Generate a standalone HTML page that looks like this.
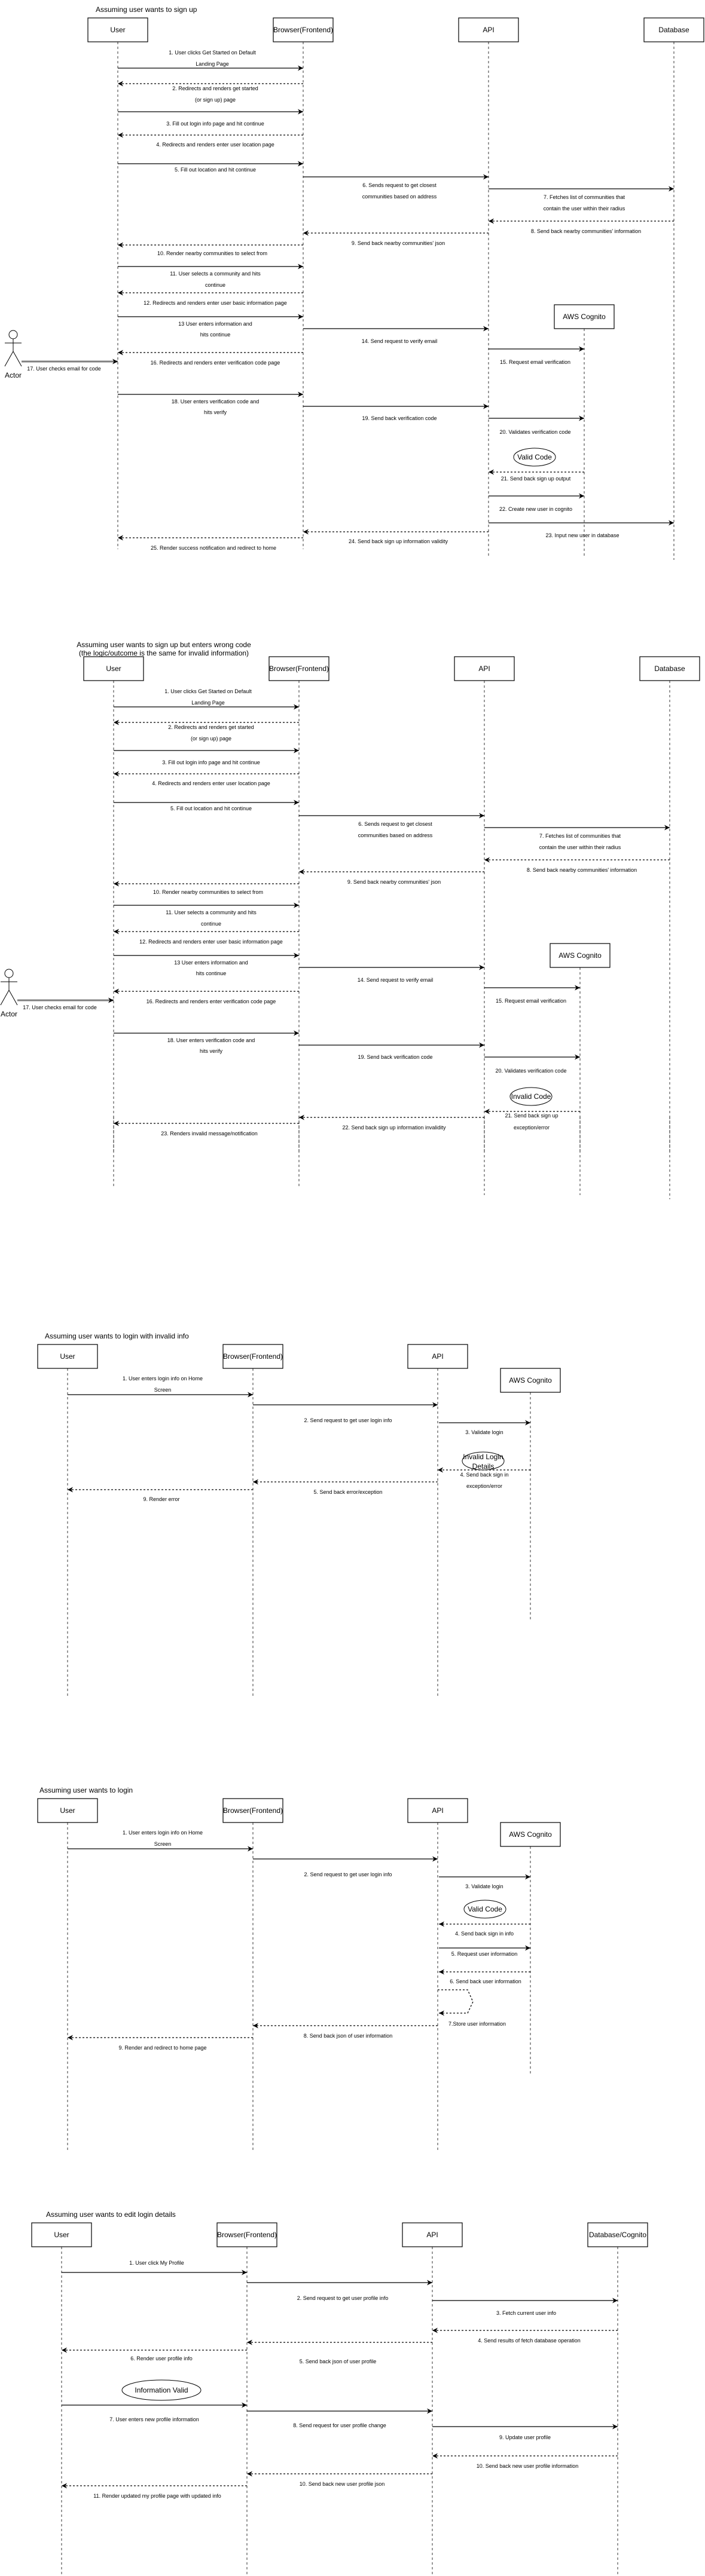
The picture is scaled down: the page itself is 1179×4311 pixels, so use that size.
<!DOCTYPE html>
<html><head><meta charset="utf-8"><style>
html,body{margin:0;padding:0;background:#fff}
svg{display:block}
text{font-family:"Liberation Sans",Arial,sans-serif;fill:#000}
.t{font-size:9px;text-anchor:middle;dominant-baseline:central}
.n{font-size:12px;text-anchor:middle;dominant-baseline:central}
.h{font-size:12px;dominant-baseline:central}
.s{stroke:#000;stroke-width:1.3;fill:none;marker-end:url(#a)}
.d{stroke:#000;stroke-width:1.3;fill:none;stroke-dasharray:3,3;marker-end:url(#a)}
.l{stroke:#000;stroke-width:.8;stroke-dasharray:4,4;fill:none}
.b{fill:#fff;stroke:#000;stroke-width:1.2}
.e{fill:#fff;stroke:#000;stroke-width:1}
</style></head><body>
<svg width="1179" height="4311" viewBox="0 0 1179 4311" xmlns="http://www.w3.org/2000/svg">
<defs><marker id="a" viewBox="0 0 10 10" refX="10" refY="5" markerWidth="9" markerHeight="9" markerUnits="userSpaceOnUse" orient="auto"><path d="M0,0 L10,5 L0,10 L3,5 z" fill="#000"/></marker>
<marker id="g" viewBox="0 0 10 10" refX="10" refY="5" markerWidth="9" markerHeight="9" markerUnits="userSpaceOnUse" orient="auto"><path d="M0,0 L10,5 L0,10 L3,5 z" fill="#000"/></marker></defs>

<!-- ===== Diagram 1 ===== -->
<text class="h" x="160" y="16">Assuming user wants to sign up</text>
<g id="d1common">
<line class="l" x1="197" y1="70" x2="197" y2="919"/>
<line class="l" x1="507" y1="70" x2="507" y2="919"/>
<line class="l" x1="817" y1="70" x2="817" y2="931"/>
<line class="l" x1="977" y1="550" x2="977" y2="931"/>
<line class="l" x1="1127" y1="70" x2="1127" y2="937"/>
<rect class="b" x="147" y="30" width="100" height="40"/><text class="n" x="197" y="50">User</text>
<rect class="b" x="457" y="30" width="100" height="40"/><text class="n" x="507" y="50">Browser(Frontend)</text>
<rect class="b" x="767" y="30" width="100" height="40"/><text class="n" x="817" y="50">API</text>
<rect class="b" x="1077" y="30" width="100" height="40"/><text class="n" x="1127" y="50">Database</text>
<rect class="b" x="927" y="510" width="100" height="40"/><text class="n" x="977" y="530">AWS Cognito</text>

<line class="s" x1="197" y1="114" x2="507" y2="114"/>
<text class="t" x="355" y="88">1. User clicks Get Started on Default</text><text class="t" x="355" y="107">Landing Page</text>
<line class="d" x1="507" y1="140" x2="197" y2="140"/>
<text class="t" x="360" y="148">2. Redirects and renders get started</text><text class="t" x="360" y="167">(or sign up) page</text>
<line class="s" x1="197" y1="187" x2="507" y2="187"/>
<text class="t" x="360" y="207">3. Fill out login info page and hit continue</text>
<line class="d" x1="507" y1="226" x2="197" y2="226"/>
<text class="t" x="360" y="242">4. Redirects and renders enter user location page</text>
<line class="s" x1="197" y1="274" x2="507" y2="274"/>
<text class="t" x="360" y="284">5. Fill out location and hit continue</text>
<line class="s" x1="507" y1="296" x2="817" y2="296"/>
<text class="t" x="668" y="310">6. Sends request to get closest</text><text class="t" x="668" y="329">communities based on address</text>
<line class="s" x1="817" y1="316" x2="1127" y2="316"/>
<text class="t" x="977" y="330">7. Fetches list of communities that</text><text class="t" x="977" y="349">contain the user within their radius</text>
<line class="d" x1="1127" y1="370" x2="817" y2="370"/>
<text class="t" x="980" y="387">8. Send back nearby communities' information</text>
<line class="d" x1="817" y1="390" x2="507" y2="390"/>
<text class="t" x="666" y="407">9. Send back nearby communities' json</text>
<line class="d" x1="507" y1="410" x2="197" y2="410"/>
<text class="t" x="355" y="424">10. Render nearby communities to select from</text>
<line class="s" x1="197" y1="446" x2="507" y2="446"/>
<text class="t" x="360" y="458">11. User selects a community and hits</text><text class="t" x="360" y="477">continue</text>
<line class="d" x1="507" y1="490" x2="197" y2="490"/>
<text class="t" x="360" y="507">12. Redirects and renders enter user basic information page</text>
<line class="s" x1="197" y1="530" x2="507" y2="530"/>
<text class="t" x="360" y="542">13 User enters information and</text><text class="t" x="360" y="560">hits continue</text>
<line class="s" x1="507" y1="550" x2="817" y2="550"/>
<text class="t" x="668" y="571">14. Send request to verify email</text>
<line class="s" x1="817" y1="584" x2="977" y2="584"/>
<text class="t" x="895" y="606">15. Request email verification</text>
<line class="d" x1="507" y1="590" x2="197" y2="590"/>
<text class="t" x="360" y="607">16. Redirects and renders enter verification code page</text>
<g stroke="#000" stroke-width="1" fill="none"><circle cx="22" cy="560" r="7" fill="#fff"/><line x1="22" y1="567" x2="22" y2="588"/><line x1="8" y1="574" x2="36" y2="574"/><line x1="22" y1="588" x2="8" y2="613"/><line x1="22" y1="588" x2="36" y2="613"/></g>
<text class="t" x="22" y="628" style="font-size:12px">Actor</text>
<line x1="36" y1="605" x2="197" y2="605" stroke="#808080" stroke-width="3" marker-end="url(#g)"/>
<text class="t" x="107" y="617">17. User checks email for code</text>
<line class="s" x1="197" y1="660" x2="507" y2="660"/>
<text class="t" x="360" y="672">18. User enters verification code and</text><text class="t" x="360" y="690">hits verify</text>
<line class="s" x1="507" y1="680" x2="817" y2="680"/>
<text class="t" x="668" y="700">19. Send back verification code</text>
<line class="s" x1="817" y1="700" x2="977" y2="700"/>
<text class="t" x="895" y="723">20. Validates verification code</text>
</g>
<ellipse class="e" cx="894" cy="765" rx="35" ry="15"/><text class="n" x="894" y="765">Valid Code</text>
<line class="d" x1="977" y1="790" x2="817" y2="790"/>
<text class="t" x="896" y="801">21. Send back sign up output</text>
<line class="s" x1="817" y1="830" x2="977" y2="830"/>
<text class="t" x="896" y="852">22. Create new user in cognito</text>
<line class="s" x1="817" y1="875" x2="1127" y2="875"/>
<text class="t" x="974" y="896">23. Input new user in database</text>
<line class="d" x1="817" y1="890" x2="507" y2="890"/>
<text class="t" x="666" y="906">24. Send back sign up information validity</text>
<line class="d" x1="507" y1="900" x2="197" y2="900"/>
<text class="t" x="357" y="917">25. Render success notification and redirect to home</text>

<!-- ===== Diagram 2 ===== -->
<text class="n" x="274" y="1079">Assuming user wants to sign up but enters wrong code</text>
<text class="n" x="274" y="1093">(the logic/outcome is the same for invalid information)</text>
<use href="#d1common" transform="translate(-7,1069)"/>
<g transform="translate(-7,1069)">
<rect x="140" y="860" width="1040" height="90" fill="#fff"/>
<line class="l" x1="197" y1="800" x2="197" y2="920"/>
<line class="l" x1="507" y1="800" x2="507" y2="920"/>
<line class="l" x1="817" y1="800" x2="817" y2="931"/>
<line class="l" x1="977" y1="800" x2="977" y2="931"/>
<line class="l" x1="1127" y1="800" x2="1127" y2="938"/>
<ellipse class="e" cx="895" cy="766" rx="35" ry="15"/><text class="n" x="895" y="766">Invalid Code</text>
<line class="d" x1="977" y1="791" x2="817" y2="791"/>
<text class="t" x="896" y="798">21. Send back sign up</text><text class="t" x="896" y="818">exception/error</text>
<line class="d" x1="817" y1="801" x2="507" y2="801"/>
<text class="t" x="666" y="818">22. Send back sign up information invalidity</text>
<line class="d" x1="507" y1="811" x2="197" y2="811"/>
<text class="t" x="357" y="828">23. Renders invalid message/notification</text>
</g>

<!-- ===== Diagram 3 ===== -->
<text class="h" x="75" y="2236">Assuming user wants to login  with invalid info</text>
<g id="d3common">
<line class="l" x1="113" y1="2290" x2="113" y2="2839"/>
<line class="l" x1="423" y1="2290" x2="423" y2="2839"/>
<line class="l" x1="732" y1="2290" x2="732" y2="2839"/>
<line class="l" x1="887" y1="2330" x2="887" y2="2711"/>
<rect class="b" x="63" y="2250" width="100" height="40"/><text class="n" x="113" y="2270">User</text>
<rect class="b" x="373" y="2250" width="100" height="40"/><text class="n" x="423" y="2270">Browser(Frontend)</text>
<rect class="b" x="682" y="2250" width="100" height="40"/><text class="n" x="732" y="2270">API</text>
<rect class="b" x="837" y="2290" width="100" height="40"/><text class="n" x="887" y="2310">AWS Cognito</text>
<line class="s" x1="113" y1="2334" x2="423" y2="2334"/>
<text class="t" x="272" y="2307">1. User enters login info on Home</text><text class="t" x="272" y="2326">Screen</text>
<line class="s" x1="423" y1="2351" x2="732" y2="2351"/>
<text class="t" x="582" y="2377">2. Send request to get user login info</text>
<line class="s" x1="734" y1="2381" x2="887" y2="2381"/>
<text class="t" x="810" y="2397">3. Validate login</text>
</g>
<ellipse class="e" cx="808" cy="2445" rx="35" ry="15"/>
<text class="n" x="808" y="2438">Invalid Login</text><text class="n" x="808" y="2454">Details</text>
<line class="d" x1="887" y1="2460" x2="732" y2="2460"/>
<text class="t" x="810" y="2468">4. Send back sign in</text><text class="t" x="810" y="2487">exception/error</text>
<line class="d" x1="732" y1="2480" x2="423" y2="2480"/>
<text class="t" x="582" y="2497">5. Send back error/exception</text>
<line class="d" x1="423" y1="2493" x2="113" y2="2493"/>
<text class="t" x="270" y="2509">9. Render error</text>

<!-- ===== Diagram 4 ===== -->
<text class="h" x="66" y="2996">Assuming user wants to login</text>
<use href="#d3common" transform="translate(0,760)"/>
<g transform="translate(0,760)">
<ellipse class="e" cx="811" cy="2435" rx="35" ry="15"/><text class="n" x="811" y="2435">Valid Code</text>
<line class="d" x1="887" y1="2460" x2="734" y2="2460"/>
<text class="t" x="810" y="2476">4. Send back sign in info</text>
<line class="s" x1="734" y1="2500" x2="887" y2="2500"/>
<text class="t" x="810" y="2510">5. Request user information</text>
<line class="d" x1="887" y1="2540" x2="734" y2="2540"/>
<text class="t" x="812" y="2556">6. Send back user information</text>
<polyline class="d" points="732,2570 782,2570 791,2590 782,2609 734,2609"/>
<text class="t" x="798" y="2627">7.Store user information</text>
<line class="d" x1="732" y1="2630" x2="423" y2="2630"/>
<text class="t" x="582" y="2647">8. Send back json of user information</text>
<line class="d" x1="423" y1="2650" x2="113" y2="2650"/>
<text class="t" x="272" y="2667">9. Render and redirect to home page</text>
</g>

<!-- ===== Diagram 5 ===== -->
<text class="h" x="77" y="3706">Assuming user wants to edit login details</text>
<line class="l" x1="103" y1="3760" x2="103" y2="4311"/>
<line class="l" x1="413" y1="3760" x2="413" y2="4311"/>
<line class="l" x1="723" y1="3760" x2="723" y2="4311"/>
<line class="l" x1="1033" y1="3760" x2="1033" y2="4311"/>
<rect class="b" x="53" y="3720" width="100" height="40"/><text class="n" x="103" y="3740">User</text>
<rect class="b" x="363" y="3720" width="100" height="40"/><text class="n" x="413" y="3740">Browser(Frontend)</text>
<rect class="b" x="673" y="3720" width="100" height="40"/><text class="n" x="723" y="3740">API</text>
<rect class="b" x="983" y="3720" width="100" height="40"/><text class="n" x="1033" y="3740">Database/Cognito</text>
<line class="s" x1="103" y1="3803" x2="413" y2="3803"/>
<text class="t" x="262" y="3787">1. User click My Profile</text>
<line class="s" x1="413" y1="3820" x2="723" y2="3820"/>
<text class="t" x="573" y="3846">2. Send request to get user profile info</text>
<line class="s" x1="723" y1="3850" x2="1033" y2="3850"/>
<text class="t" x="880" y="3871">3. Fetch current user info</text>
<line class="d" x1="1033" y1="3900" x2="723" y2="3900"/>
<text class="t" x="885" y="3917">4. Send results of fetch database operation</text>
<line class="d" x1="723" y1="3920" x2="413" y2="3920"/>
<text class="t" x="565" y="3952">5. Send back json of user profile</text>
<line class="d" x1="413" y1="3933" x2="103" y2="3933"/>
<text class="t" x="270" y="3947">6. Render user profile info</text>
<ellipse class="e" cx="270" cy="4000" rx="66" ry="17"/><text class="n" x="270" y="4000">Information Valid</text>
<line class="s" x1="103" y1="4025" x2="413" y2="4025"/>
<text class="t" x="258" y="4049">7. User enters new profile information</text>
<line class="s" x1="413" y1="4035" x2="723" y2="4035"/>
<text class="t" x="568" y="4059">8. Send request for user profile change</text>
<line class="s" x1="723" y1="4061" x2="1033" y2="4061"/>
<text class="t" x="878" y="4079">9. Update user profile</text>
<line class="d" x1="1033" y1="4110" x2="723" y2="4110"/>
<text class="t" x="882" y="4127">10. Send back new user profile information</text>
<line class="d" x1="723" y1="4140" x2="413" y2="4140"/>
<text class="t" x="572" y="4157">10. Send back new user profile json</text>
<line class="d" x1="413" y1="4160" x2="103" y2="4160"/>
<text class="t" x="263" y="4177">11. Render updated my profile page with updated info</text>
</svg>
</body></html>
